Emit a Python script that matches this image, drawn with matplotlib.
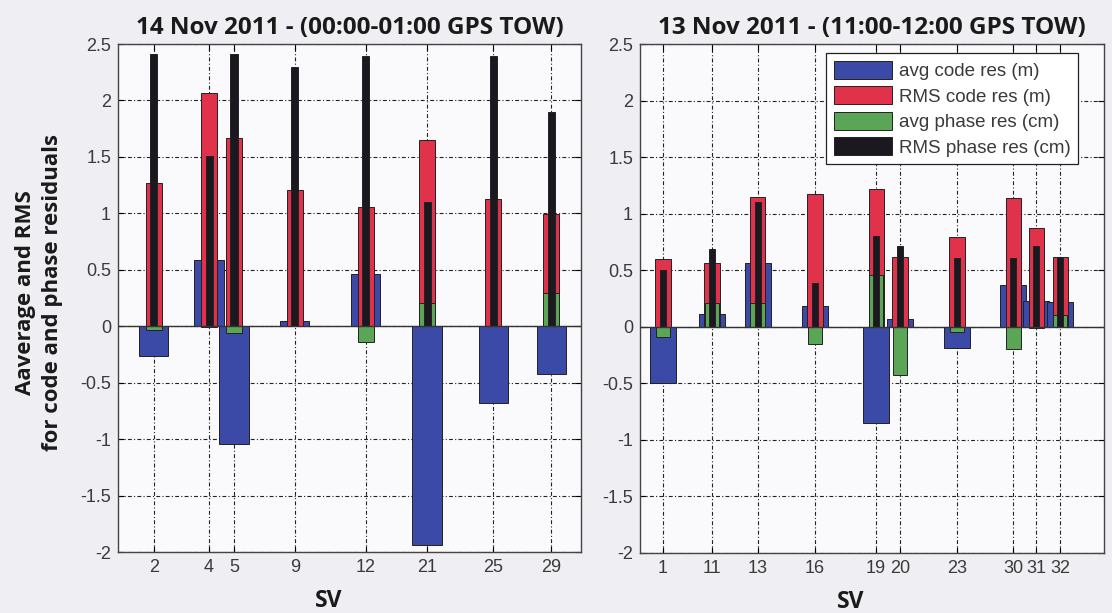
import numpy as np
import matplotlib
matplotlib.use("Agg")
from matplotlib import pyplot as plt
from matplotlib.patches import Patch

# left panel: 14 Nov 2011
sv_a = ["2", "4", "5", "9", "12", "21", "25", "29"]
pos_a = [0, 2.12, 3.08, 5.42, 8.15, 10.5, 13.04, 15.27]
avg_code_a = [-0.26, 0.59, -1.04, 0.05, 0.46, -1.94, -0.68, -0.42]
rms_code_a = [1.27, 2.07, 1.67, 1.21, 1.06, 1.65, 1.13, 0.99]
avg_phase_a = [-0.03, -0.01, -0.06, 0.0, -0.14, 0.21, 0.0, 0.29]
rms_phase_a = [2.41, 1.51, 2.41, 2.30, 2.39, 1.10, 2.39, 1.90]

# right panel: 13 Nov 2011
sv_b = ["1", "11", "13", "16", "19", "20", "23", "30", "31", "32"]
pos_b = [0, 2.07, 4.0, 6.41, 8.99, 10.0, 12.4, 14.77, 15.74, 16.75]
avg_code_b = [-0.50, 0.11, 0.56, 0.18, -0.85, 0.07, -0.19, 0.37, 0.23, 0.22]
rms_code_b = [0.60, 0.56, 1.15, 1.17, 1.22, 0.62, 0.79, 1.14, 0.87, 0.62]
avg_phase_b = [-0.09, 0.21, 0.21, -0.15, 0.46, -0.43, -0.045, -0.20, -0.01, 0.10]
rms_phase_b = [0.50, 0.69, 1.10, 0.39, 0.80, 0.71, 0.61, 0.61, 0.71, 0.62]

labels = ["avg code res (m)", "RMS code res (m)", "avg phase res (cm)", "RMS phase res (cm)"]
colors = ["#3a4aa6", "#e0324b", "#5aa556", "#1c1820"]
widths = [1.12, 0.64, 0.62, 0.27]

plt.rcParams['font.family'] = ['Liberation Sans', 'DejaVu Sans']
bold_font = ["Open Sans", "DejaVu Sans"]

fig = plt.figure(figsize=(11.12, 6.13), dpi=100)
fig.patch.set_facecolor("#efeff3")

ax1 = fig.add_axes([0.1061, 0.0995, 0.4164, 0.8287])
ax2 = fig.add_axes([0.5755, 0.0979, 0.4173, 0.8303])

def draw(ax, pos, svs, series, xlim, title):
    ax.set_facecolor("#fafafc")
    for vals, c, w in zip(series, colors, widths):
        ax.bar(pos, vals, width=w, color=c, edgecolor="#222222", linewidth=0.7, zorder=3)
    ax.axhline(0, color="#333333", lw=1.0, zorder=4)
    ax.set_xlim(*xlim)
    ax.set_ylim(-2, 2.5)
    ax.set_xticks(pos)
    ax.set_xticklabels(svs)
    yt = np.arange(-2, 2.51, 0.5)
    ax.set_yticks(yt)
    ax.set_yticklabels(["%g" % v for v in yt])
    ax.grid(True, color="#222222", linestyle=(0, (3.5, 2, 1, 2)), linewidth=0.8, zorder=1)
    ax.tick_params(direction="in", top=True, right=True, length=4,
                   labelsize=13, labelcolor="#3a3a3a", pad=5)
    for s in ax.spines.values():
        s.set_color("#444444")
        s.set_linewidth(1.0)
    ax.set_title(title, fontsize=17.5, fontweight="bold", family=bold_font,
                 color="#1a1a1a", pad=7)
    ax.set_xlabel("SV", fontsize=16.5, fontweight="bold", family=bold_font,
                  color="#1a1a1a")
    ax.xaxis.set_label_coords(0.455, -0.072)

draw(ax1, pos_a, sv_a, [avg_code_a, rms_code_a, avg_phase_a, rms_phase_a],
     (-1.38, 16.42), "14 Nov 2011 - (00:00-01:00 GPS TOW)")
draw(ax2, pos_b, sv_b, [avg_code_b, rms_code_b, avg_phase_b, rms_phase_b],
     (-0.97, 18.6), "13 Nov 2011 - (11:00-12:00 GPS TOW)")

ax1.set_ylabel("Aaverage and RMS\nfor code and phase residuals", fontsize=16,
               fontweight="bold", family=bold_font, color="#1a1a1a",
               linespacing=1.4)
ax1.yaxis.set_label_coords(-0.118, 0.51)

handles = [Patch(facecolor=c, edgecolor="#222222", linewidth=0.7) for c in colors]
leg = ax2.legend(handles, labels, loc="upper right", fontsize=13.5, frameon=True,
                 fancybox=False, edgecolor="#222222", framealpha=1.0,
                 handlelength=3.1, handleheight=1.12, labelspacing=0.32,
                 handletextpad=0.37, borderpad=0.4, borderaxespad=0.0,
                 bbox_to_anchor=(0.944, 0.982))
for t in leg.get_texts():
    t.set_color("#3a3a3a")
leg.get_frame().set_linewidth(0.9)
leg.set_zorder(6)

fig.savefig("out.png", dpi=100, facecolor=fig.get_facecolor())
